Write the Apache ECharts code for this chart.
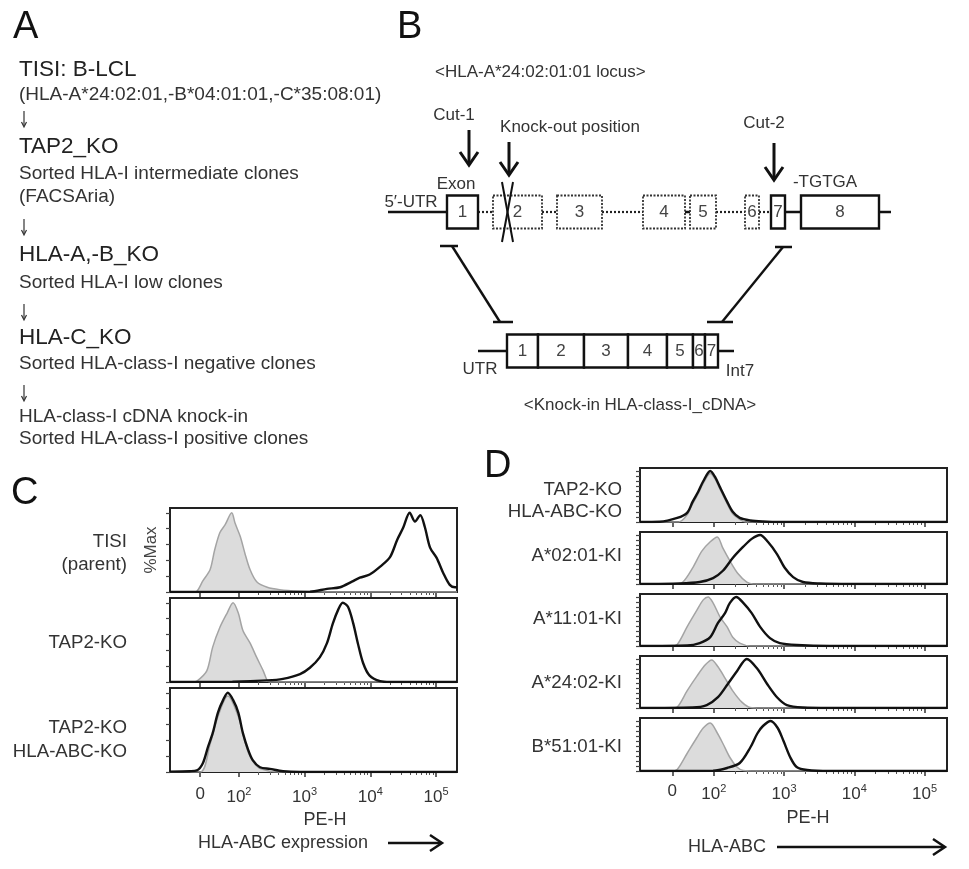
<!DOCTYPE html>
<html>
<head>
<meta charset="utf-8">
<script src="https://cdn.jsdelivr.net/npm/echarts@6/dist/echarts.min.js"></script>
<style>
  html, body { margin: 0; padding: 0; background: #fff; }
  #chart { width: 969px; height: 869px; }
</style>
</head>
<body>
<div id="chart"></div>
<script>
// PE-H axis is biexponential: x values below are display decades (10^2 -> 2, 10^3 -> 3 ...)
const xTickPos = [1.41, 2, 3, 4, 5];
const xTickLabels = ['0', '10^2', '10^3', '10^4', '10^5'];

// panel C histograms, [PE-H position, %Max]; Iso = grey filled control, Hla = black line
const cTisiIso = [[0.95,0],[1.30,0],[1.36,1],[1.45,14],[1.56,28],[1.63,53],[1.71,75],[1.79,85],[1.89,100],[1.94,87],[2.02,70],[2.09,49],[2.17,28],[2.27,13],[2.43,6],[2.62,3],[2.93,1],[3.23,0],[5.32,0]];
const cTisiHla = [[0.95,0],[3.08,0.5],[3.34,4],[3.54,6],[3.72,13],[3.84,18],[3.99,22],[4.15,32],[4.30,44],[4.41,66],[4.50,81],[4.60,100],[4.68,89],[4.76,97],[4.83,82],[4.91,56],[5.01,43],[5.11,24],[5.21,9],[5.29,6],[5.32,6]];
const cTap2Iso = [[0.95,0],[1.30,0],[1.36,1],[1.51,14],[1.60,44],[1.71,69],[1.82,87],[1.91,100],[1.99,87],[2.06,65],[2.17,49],[2.27,31],[2.37,14],[2.43,2],[2.48,0],[5.32,0]];
const cTap2Hla = [[0.95,0],[1.90,0.5],[2.43,2],[2.67,4],[2.93,10],[3.08,18],[3.23,31],[3.34,49],[3.43,74],[3.51,91],[3.58,100],[3.66,95],[3.74,74],[3.81,49],[3.89,24],[3.99,8],[4.15,1],[4.30,0],[5.32,0]];
const cKoIso = [[0.95,0],[1.41,0],[1.56,35],[1.68,70],[1.83,96],[1.99,70],[2.14,25],[2.29,6],[2.47,1],[2.60,0],[5.32,0]];
const cKoHla = [[0.95,0.5],[1.25,1],[1.36,2],[1.45,11],[1.53,32],[1.60,49],[1.68,75],[1.76,91],[1.83,100],[1.91,91],[1.99,75],[2.06,49],[2.14,28],[2.21,15],[2.32,6],[2.47,4],[2.67,1],[2.93,0],[5.32,0]];

// panel D histograms
const dKoIso = [[0.95,0],[1.50,0],[1.62,14],[1.70,36],[1.78,56],[1.85,76],[1.95,95],[2.02,84],[2.09,64],[2.19,36],[2.27,16],[2.37,5],[2.45,0],[5.32,0]];
const dKoHla = [[0.95,0],[1.23,0.5],[1.48,8],[1.62,18],[1.70,40],[1.78,60],[1.85,80],[1.95,100],[2.02,88],[2.09,68],[2.19,40],[2.27,20],[2.37,8],[2.52,3],[2.70,1],[2.94,0],[5.32,0]];
const dA0201Iso = [[0.95,0],[1.45,0],[1.56,4],[1.70,33],[1.83,67],[1.95,86],[2.05,96],[2.13,73],[2.23,47],[2.34,22],[2.47,4],[2.56,0],[5.32,0]];
const dA0201Hla = [[0.95,0],[1.52,1],[1.80,4],[1.99,12],[2.13,27],[2.27,53],[2.42,76],[2.54,92],[2.66,100],[2.77,86],[2.90,61],[3.01,33],[3.13,14],[3.27,4],[3.51,1],[3.94,0],[5.32,0]];
const dA1101Iso = [[0.95,0],[1.40,0],[1.48,3],[1.62,39],[1.76,73],[1.85,94],[1.92,100],[1.99,88],[2.09,59],[2.19,39],[2.27,18],[2.37,6],[2.52,0],[5.32,0]];
const dA1101Hla = [[0.95,0],[1.62,1],[1.80,6],[1.95,18],[2.06,47],[2.16,67],[2.23,88],[2.32,100],[2.42,88],[2.54,67],[2.66,39],[2.80,16],[2.94,6],[3.18,2],[3.65,0],[5.32,0]];
const dA2402Iso = [[0.95,0],[1.40,0],[1.48,2],[1.62,35],[1.76,65],[1.88,88],[1.97,98],[2.06,84],[2.16,61],[2.27,35],[2.40,12],[2.52,1],[2.66,0],[5.32,0]];
const dA2402Hla = [[0.95,0],[1.70,1],[1.90,6],[2.06,22],[2.20,49],[2.33,75],[2.47,100],[2.62,80],[2.76,49],[2.90,22],[3.04,6],[3.27,1],[3.65,0],[5.32,0]];
const dB5101Iso = [[0.95,0],[1.40,0],[1.48,3],[1.62,35],[1.76,67],[1.85,86],[1.95,96],[2.05,76],[2.13,55],[2.23,27],[2.33,8],[2.42,1],[2.59,0],[5.32,0]];
const dB5101Hla = [[0.95,0],[1.99,0.5],[2.19,6],[2.37,16],[2.52,47],[2.62,75],[2.70,90],[2.81,100],[2.91,86],[2.99,61],[3.09,27],[3.18,8],[3.33,2],[3.65,0],[5.32,0]];

const cRowLabels = [['TISI', '(parent)'], ['TAP2-KO'], ['TAP2-KO', 'HLA-ABC-KO']];
const dRowLabels = [['TAP2-KO', 'HLA-ABC-KO'], ['A*02:01-KI'], ['A*11:01-KI'], ['A*24:02-KI'], ['B*51:01-KI']];

const flowSteps = [
  ['TISI: B-LCL', 'h'], ['(HLA-A*24:02:01,-B*04:01:01,-C*35:08:01)', 's'], ['', 'a'],
  ['TAP2_KO', 'h'], ['Sorted HLA-I intermediate clones', 's'], ['(FACSAria)', 's'], ['', 'a'],
  ['HLA-A,-B_KO', 'h'], ['Sorted HLA-I low clones', 's'], ['', 'a'],
  ['HLA-C_KO', 'h'], ['Sorted HLA-class-I negative clones', 's'], ['', 'a'],
  ['HLA-class-I cDNA knock-in', 's'], ['Sorted HLA-class-I positive clones', 's']
];

// panel B schematic, in diagram units: [start, end, row, label, solid]
const locusExons = [[67,98,212,'1',1],[113,162,212,'2',0],[177,222,212,'3',0],[263,305,212,'4',0],[310,336,212,'5',0],[365,379,212,'6',0],[391,405,212,'7',1],[421,499,212,'8',1]];
const cdnaExons = [[127,158,351,'1',1],[158,204,351,'2',1],[204,248,351,'3',1],[248,287,351,'4',1],[287,313,351,'5',1],[313,325,351,'6',1],[325,338,351,'7',1]];
const solidLinks = [
  [[8,212],[67,212]], [[305,212],[310,212]], [[405,212],[421,212]], [[499,212],[511,212]],
  [[98,351],[127,351]], [[338,351],[354,351]],
  [[60,246],[78,246]], [[72,246],[120,322]], [[113,322],[133,322]],
  [[395,247],[412,247]], [[403,247],[342,322]], [[327,322],[353,322]]
];
const crossLinks = [[[122,182],[133,242]], [[133,182],[122,242]]];
const dottedLinks = [[[98,212],[113,212]], [[162,212],[177,212]], [[222,212],[263,212]], [[336,212],[365,212]], [[379,212],[391,212]]];
const cutArrows = [[89,130,165], [129,142,175], [394,143,180]];

const FONT = '"Liberation Sans", Arial, Helvetica, sans-serif';
const chart = echarts.init(document.getElementById('chart'));

const minorTicks = [];
for (let d = 2; d <= 4; d++) for (let k = 2; k <= 9; k++) minorTicks.push(d + Math.log10(k));

const cPanels = [[cTisiIso, cTisiHla], [cTap2Iso, cTap2Hla], [cKoIso, cKoHla]];
const dPanels = [[dKoIso, dKoHla], [dA0201Iso, dA0201Hla], [dA1101Iso, dA1101Hla], [dA2402Iso, dA2402Hla], [dB5101Iso, dB5101Hla]];
const cBoxes = [[508, 84], [598, 84], [688, 84]];
const dBoxes = [[468, 54], [532, 52], [594, 52], [656, 52], [718, 53]];

const grids = [], xAxes = [], yAxes = [], series = [];

function tickLabel(v) {
  const i = xTickPos.findIndex(p => Math.abs(p - v) < 1e-6);
  if (i < 0) return '';
  const parts = xTickLabels[i].split('^');
  return parts.length === 1 ? '{n|' + parts[0] + '}' : '{n|' + parts[0] + '}{s|' + parts[1] + '}';
}

function addPanel(left, width, top, height, pair, isBottom, yStep, yName, labelMargin) {
  const idx = grids.length;
  grids.push({ left: left, top: top, width: width, height: height, show: true, borderColor: '#222', borderWidth: 2, backgroundColor: 'transparent' });
  // major ticks with labels
  xAxes.push({
    gridIndex: idx, type: 'value', min: 0.95, max: 5.32, position: 'bottom',
    axisLine: { show: false, onZero: false }, splitLine: { show: false },
    axisTick: { show: true, inside: false, length: 5, customValues: xTickPos, lineStyle: { color: '#333', width: 1.5 } },
    axisLabel: {
      show: isBottom, customValues: xTickPos, margin: labelMargin, formatter: tickLabel,
      rich: {
        n: { fontSize: 17, fontFamily: FONT, color: '#333' },
        s: { fontSize: 11, fontFamily: FONT, color: '#333', padding: [0, 0, 11, 0] }
      }
    }
  });
  const ticks = [];
  for (let v = 0; v <= 100; v += yStep) ticks.push(v);
  yAxes.push({
    gridIndex: idx, type: 'value', min: 0, max: 106,
    axisLine: { show: false }, splitLine: { show: false }, axisLabel: { show: false },
    axisTick: { show: true, inside: false, length: 4, customValues: ticks, lineStyle: { color: '#444', width: 1.2 } },
    name: yName || '', nameLocation: 'middle', nameGap: 10, nameRotate: 90,
    nameTextStyle: { fontSize: 17, fontFamily: FONT, color: '#444' }
  });
  series.push({
    type: 'line', xAxisIndex: idx, yAxisIndex: idx, data: pair[0], smooth: 0.3, symbol: 'none',
    lineStyle: { color: '#a4a4a4', width: 1.5 }, areaStyle: { color: '#dcdcdc', opacity: 1 }, z: 2
  });
  series.push({
    type: 'line', xAxisIndex: idx, yAxisIndex: idx, data: pair[1], smooth: 0.3, symbol: 'none',
    lineStyle: { color: '#111', width: 2.4 }, z: 3
  });
}

cPanels.forEach((p, i) => addPanel(170, 287, cBoxes[i][0], cBoxes[i][1], p, i === 2, 20, i === 0 ? '%Max' : '', 14));
dPanels.forEach((p, i) => addPanel(640, 307, dBoxes[i][0], dBoxes[i][1], p, i === 4, 10, '', 12));

// minor log ticks: a second, unlabeled x axis on each histogram grid
const nHist = grids.length;
for (let g = 0; g < nHist; g++) {
  xAxes.push({
    gridIndex: g, type: 'value', min: 0.95, max: 5.32, position: 'bottom',
    axisLine: { show: false, onZero: false }, splitLine: { show: false }, axisLabel: { show: false },
    axisTick: { show: true, inside: false, length: 3, customValues: minorTicks, lineStyle: { color: '#555', width: 1 } }
  });
}

// hidden coordinate system for the panel B schematic
const bIdx = grids.length;
const bX = xAxes.length, bY = yAxes.length;
grids.push({ left: 380, top: 0, width: 589, height: 430, show: false });
xAxes.push({ gridIndex: bIdx, type: 'value', min: 0, max: 589, show: false });
yAxes.push({ gridIndex: bIdx, type: 'value', min: 0, max: 430, inverse: true, show: false });

function exonRender(rows) {
  return function (params, api) {
    const r = rows[params.dataIndex];
    const p0 = api.coord([r[0], r[2] - 16.5]);
    const p1 = api.coord([r[1], r[2] + 16.5]);
    const solid = r[4] === 1;
    return {
      type: 'group', children: [
        { type: 'rect', shape: { x: p0[0], y: p0[1], width: p1[0] - p0[0], height: p1[1] - p0[1] },
          style: { fill: '#fff', stroke: solid ? '#111' : '#333', lineWidth: solid ? 2.4 : 1.8, lineDash: solid ? null : [2, 1.5] } },
        { type: 'text', x: (p0[0] + p1[0]) / 2, y: (p0[1] + p1[1]) / 2,
          style: { text: r[3], fontSize: 17, fontFamily: FONT, fill: '#444', align: 'center', verticalAlign: 'middle', textAlign: 'center', textVerticalAlign: 'middle' } }
      ]
    };
  };
}

series.push({ type: 'lines', coordinateSystem: 'cartesian2d', xAxisIndex: bX, yAxisIndex: bY,
  data: solidLinks.map(c => ({ coords: c })), lineStyle: { color: '#111', width: 2.4, opacity: 1 }, silent: true, z: 2 });
series.push({ type: 'lines', coordinateSystem: 'cartesian2d', xAxisIndex: bX, yAxisIndex: bY,
  data: dottedLinks.map(c => ({ coords: c })), lineStyle: { color: '#222', width: 2.2, type: [2, 2], opacity: 1 }, silent: true, z: 2 });
series.push({ type: 'custom', xAxisIndex: bX, yAxisIndex: bY, data: locusExons.map(r => [r[0], r[2]]), renderItem: exonRender(locusExons), silent: true, z: 3 });
series.push({ type: 'custom', xAxisIndex: bX, yAxisIndex: bY, data: cdnaExons.map(r => [r[0], r[2]]), renderItem: exonRender(cdnaExons), silent: true, z: 3 });
series.push({ type: 'lines', coordinateSystem: 'cartesian2d', xAxisIndex: bX, yAxisIndex: bY,
  data: crossLinks.map(c => ({ coords: c })), lineStyle: { color: '#111', width: 2, opacity: 1 }, silent: true, z: 4 });
series.push({ type: 'custom', xAxisIndex: bX, yAxisIndex: bY, data: cutArrows.map(a => [a[0], a[1]]), silent: true, z: 4,
  renderItem: function (params, api) {
    const a = cutArrows[params.dataIndex];
    const p0 = api.coord([a[0], a[1]]), p1 = api.coord([a[0], a[2]]);
    return { type: 'group', children: [
      { type: 'line', shape: { x1: p0[0], y1: p0[1], x2: p1[0], y2: p1[1] - 2 }, style: { stroke: '#111', lineWidth: 3 } },
      { type: 'polyline', shape: { points: [[p1[0] - 9, p1[1] - 13], [p1[0], p1[1]], [p1[0] + 9, p1[1] - 13]] }, style: { stroke: '#111', lineWidth: 3, fill: null } }
    ] };
  } });

// text
const graphics = [];
function txt(text, x, y, size, align, color) {
  graphics.push({ type: 'text', x: x, y: y, silent: true,
    style: { text: text, fontSize: size, fontFamily: FONT, fill: color || '#333',
      align: align || 'left', verticalAlign: 'middle', textAlign: align || 'left', textVerticalAlign: 'middle' } });
}
function downArrow(x, y) {
  graphics.push({ type: 'line', silent: true, shape: { x1: x, y1: y - 8, x2: x, y2: y + 7 }, style: { stroke: '#333', lineWidth: 1.2 } });
  graphics.push({ type: 'polyline', silent: true, shape: { points: [[x - 2.5, y + 3], [x, y + 8], [x + 2.5, y + 3]] }, style: { stroke: '#333', lineWidth: 1.2, fill: null } });
}
txt('A', 13, 28, 38, 'left', '#111');
txt('B', 397, 28, 38, 'left', '#111');
txt('C', 11, 494, 38, 'left', '#111');
txt('D', 484, 467, 38, 'left', '#111');

const flowY = [70, 95, 119, 147, 174, 197, 227, 255, 283, 312, 338, 364, 393, 417, 439];
flowSteps.forEach((s, i) => {
  if (s[1] === 'h') txt(s[0], 19, flowY[i], 22.5, 'left', '#222');
  else if (s[1] === 's') txt(s[0], 19, flowY[i], 19, 'left', '#333');
  else downArrow(24, flowY[i]);
});

txt('<HLA-A*24:02:01:01 locus>', 435, 72, 17, 'left', '#333');
txt('Cut-1', 454, 115, 17, 'center', '#333');
txt('Knock-out position', 570, 127, 17, 'center', '#333');
txt('Cut-2', 764, 123, 17, 'center', '#333');
txt('Exon', 456, 184, 17, 'center', '#333');
txt('-TGTGA', 825, 182, 17, 'center', '#333');
txt('5\u2032-UTR', 411, 202, 17, 'center', '#333');
txt('UTR', 480, 369, 17, 'center', '#333');
txt('Int7', 740, 371, 17, 'center', '#333');
txt('<Knock-in HLA-class-I_cDNA>', 640, 405, 17, 'center', '#333');

const cLabelY = [[542, 565], [643], [728, 752]];
cRowLabels.forEach((rows, i) => rows.forEach((t, j) => txt(t, 127, cLabelY[i][j], 18.7, 'right', '#333')));
const dLabelY = [[490, 512], [556], [619], [683], [747]];
dRowLabels.forEach((rows, i) => rows.forEach((t, j) => txt(t, 622, dLabelY[i][j], 18.7, 'right', '#333')));

txt('PE-H', 325, 820, 18, 'center', '#333');
txt('HLA-ABC expression', 198, 843, 18, 'left', '#333');
txt('PE-H', 808, 818, 18, 'center', '#333');
txt('HLA-ABC', 688, 847, 18, 'left', '#333');

function bigArrow(x1, x2, y) {
  graphics.push({ type: 'line', silent: true, shape: { x1: x1, y1: y, x2: x2 - 2, y2: y }, style: { stroke: '#111', lineWidth: 2.5 } });
  graphics.push({ type: 'polyline', silent: true, shape: { points: [[x2 - 12, y - 8], [x2, y], [x2 - 12, y + 8]] }, style: { stroke: '#111', lineWidth: 2.5, fill: null } });
}
bigArrow(388, 442, 843);
bigArrow(777, 945, 847);

chart.setOption({
  animation: false,
  backgroundColor: '#fff',
  grid: grids,
  xAxis: xAxes,
  yAxis: yAxes,
  series: series,
  graphic: { elements: graphics }
});
</script>
</body>
</html>
